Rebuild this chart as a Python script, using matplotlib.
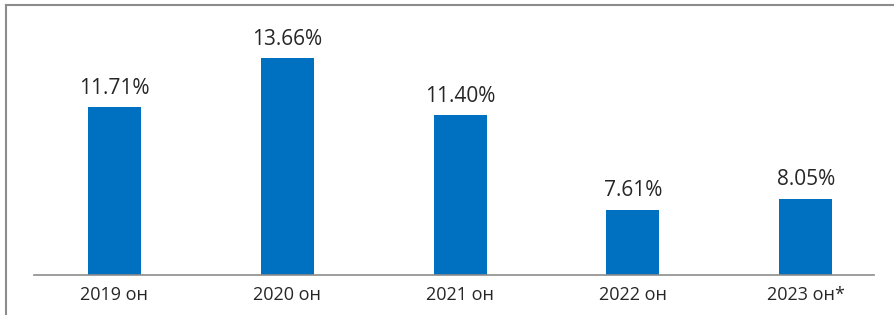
import matplotlib.pyplot as plt
from matplotlib.lines import Line2D

# Données
annees = ["2019 он", "2020 он", "2021 он", "2022 он", "2023 он*"]
valeurs = [11.71, 13.66, 11.40, 7.61, 8.05]
etiquettes = ["11.71%", "13.66%", "11.40%", "7.61%", "8.05%"]

plt.rcParams['font.family'] = ['Open Sans', 'DejaVu Sans']

fig = plt.figure(figsize=(8.95, 3.15), dpi=100)
ax = fig.add_axes([0.0313, 0.127, 0.9654, 0.794])

x = range(len(annees))
barres = ax.bar(x, valeurs, width=0.307, color='#0070C0', bottom=0)

ax.set_ylim(5, 15)
ax.set_xlim(-0.5, 4.5)

for b, txt in zip(barres, etiquettes):
    ax.annotate(txt, (b.get_x() + b.get_width() / 2, b.get_height()),
                xytext=(0, 6), textcoords='offset points',
                ha='center', va='bottom', fontsize=15, color='#262626')

ax.set_xticks(list(x))
ax.set_xticklabels(annees, fontsize=13, color='#262626')
ax.tick_params(axis='x', length=0, pad=8)
ax.set_yticks([])

for s in ['top', 'right', 'left']:
    ax.spines[s].set_visible(False)
ax.spines['bottom'].set_color('#8c8c8c')
ax.spines['bottom'].set_linewidth(1.2)
ax.spines['bottom'].set_bounds(-0.466, 4.397)

# Cadre gris (haut et gauche)
fig.add_artist(Line2D([6 / 895, 6 / 895], [0, 1 - 5 / 315], color='#8c8c8c', lw=1.5))
fig.add_artist(Line2D([6 / 895, 893 / 895], [1 - 5 / 315, 1 - 5 / 315], color='#8c8c8c', lw=1.5))

fig.savefig("out.png", dpi=100)
